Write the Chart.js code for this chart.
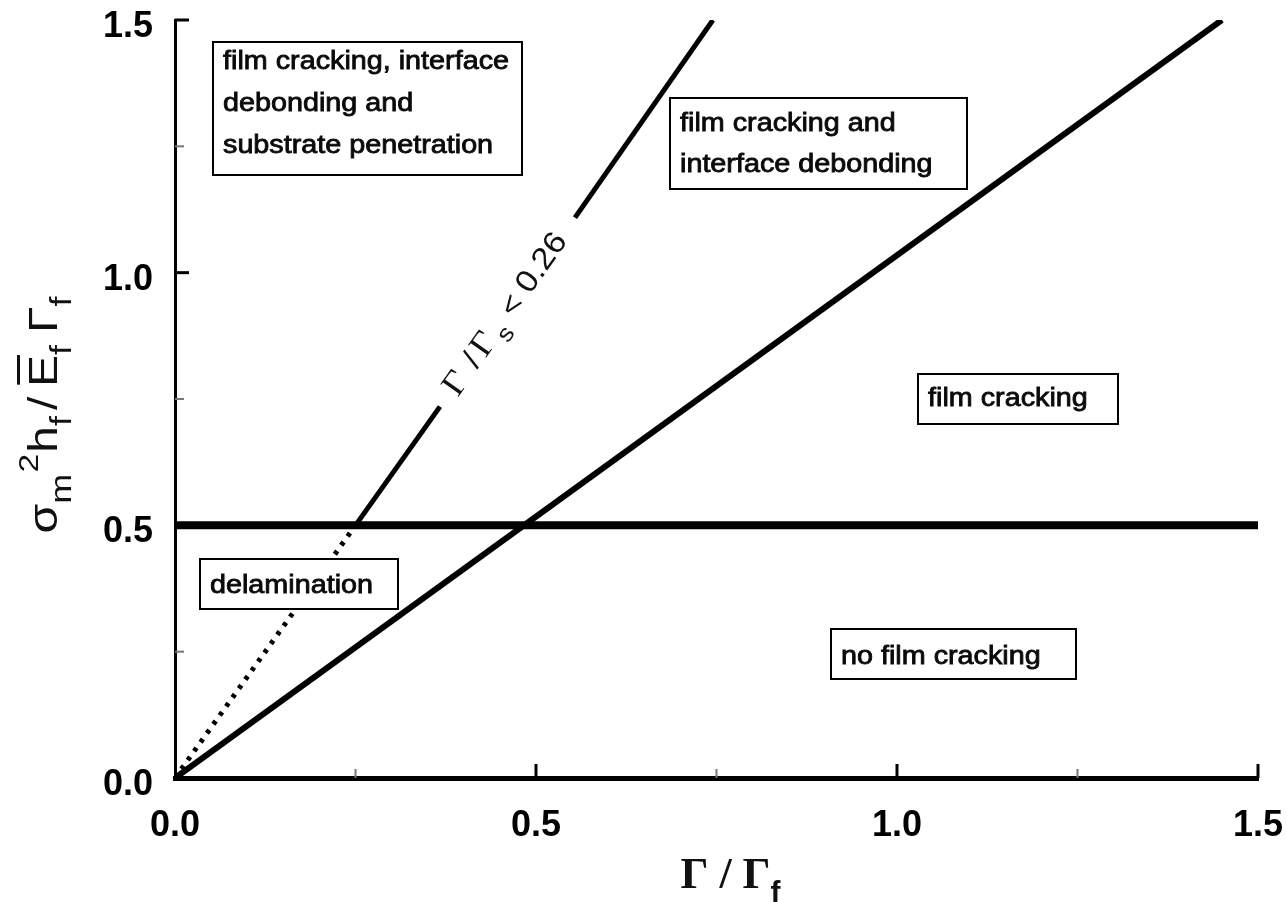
<!DOCTYPE html>
<html>
<head>
<meta charset="utf-8">
<script src="https://cdn.jsdelivr.net/npm/chart.js@4.4.0/dist/chart.umd.min.js"></script>
<style>
  body { margin: 0; background: #fff; }
  #mapChart { display: block; }
</style>
</head>
<body>
<canvas id="mapChart" width="1287" height="902"></canvas>
<script>
// boundary lines, x = Γ/Γf, y = σm²hf/ĒfΓf
var crackX = [0, 1.5];
var crackY = [0.5, 0.5];
var debondX = [0, 1.45];
var debondY = [0, 1.5];
var dotX = [0, 0.25];
var dotY = [0, 0.5];
var subLowX = [0.25, 0.367];
var subLowY = [0.5, 0.735];
var subHighX = [0.554, 0.745];
var subHighY = [1.109, 1.5];

var tickVals = [0.25, 0.5, 0.75, 1.0, 1.25, 1.5];
var majorVals = [0.5, 1.0, 1.5];

var regionNames = [
    ['film cracking, interface', 'debonding and', 'substrate penetration'],
    ['film cracking and', 'interface debonding'],
    ['film cracking'],
    ['delamination'],
    ['no film cracking']
];

// where the region boxes sit (top-left corner in data units, size in px)
var notes = [
    { x: 0.053, y: 1.457, w: 309, h: 133, first: 27, step: 42 },
    { x: 0.686, y: 1.345, w: 297, h: 91, first: 33, step: 41 },
    { x: 1.029, y: 0.800, w: 200, h: 50, first: 32, step: 0 },
    { x: 0.035, y: 0.434, w: 198, h: 50, first: 34, step: 0 },
    { x: 0.909, y: 0.295, w: 245, h: 50, first: 35, step: 0 }
];

function pts(xs, ys) {
    return xs.map(function (x, i) { return { x: x, y: ys[i] }; });
}

var SANS = '"Liberation Sans", Arial, sans-serif';
var SERIF = '"Liberation Serif", "Times New Roman", serif';

function drawParts(ctx, parts, x0) {
    var x = x0;
    parts.forEach(function (p) {
        ctx.font = p.f;
        x += p.gap || 0;
        var w = ctx.measureText(p.t).width;
        ctx.fillText(p.t, x, p.dy || 0);
        if (p.bar) {
            ctx.fillRect(x + 2, -p.bar, w - 2, 3);
        }
        x += w;
    });
    return x - x0;
}

function partsWidth(ctx, parts) {
    var w = 0;
    parts.forEach(function (p) {
        ctx.font = p.f;
        w += (p.gap || 0) + ctx.measureText(p.t).width;
    });
    return w;
}

var extras = {
    id: 'extras',
    afterDatasetsDraw: function (chart) {
        var ctx = chart.ctx;
        var xs = chart.scales.x, ys = chart.scales.y;
        var area = chart.chartArea;

        // inward ticks
        ctx.save();
        tickVals.forEach(function (v) {
            var major = majorVals.indexOf(v) >= 0;
            ctx.strokeStyle = major ? '#000' : '#777';
            ctx.lineWidth = major ? 3 : 2;
            var len = major ? 14 : 9;
            var px = xs.getPixelForValue(v);
            ctx.beginPath();
            ctx.moveTo(px, area.bottom);
            ctx.lineTo(px, area.bottom - len);
            ctx.stroke();
            var py = ys.getPixelForValue(v);
            ctx.beginPath();
            ctx.moveTo(area.left, py);
            ctx.lineTo(area.left + len, py);
            ctx.stroke();
        });
        ctx.restore();

        // region boxes
        ctx.save();
        notes.forEach(function (n, i) {
            var bx = Math.round(xs.getPixelForValue(n.x));
            var by = Math.round(ys.getPixelForValue(n.y));
            ctx.fillStyle = '#fff';
            ctx.fillRect(bx, by, n.w, n.h);
            ctx.strokeStyle = '#000';
            ctx.lineWidth = 2;
            ctx.strokeRect(bx, by, n.w, n.h);
            ctx.fillStyle = '#0a0a0a';
            ctx.strokeStyle = '#0a0a0a';
            ctx.lineWidth = 0.8;
            ctx.font = '25px ' + SANS;
            ctx.textBaseline = 'alphabetic';
            regionNames[i].forEach(function (line, k) {
                ctx.save();
                ctx.translate(bx + 10, by + n.first + k * n.step);
                ctx.scale(1.15, 1);
                ctx.fillText(line, 0, 0);
                ctx.strokeText(line, 0, 0);
                ctx.restore();
            });
        });
        ctx.restore();

        // label along the steep boundary, in the gap of the line
        var ax = xs.getPixelForValue((subLowX[1] + subHighX[0]) / 2);
        var ay = ys.getPixelForValue((subLowY[1] + subHighY[0]) / 2);
        var ang = Math.atan2(
            ys.getPixelForValue(subHighY[1]) - ys.getPixelForValue(subLowY[0]),
            xs.getPixelForValue(subHighX[1]) - xs.getPixelForValue(subLowX[0]));
        ctx.save();
        ctx.translate(ax, ay);
        ctx.rotate(ang);
        ctx.fillStyle = '#111';
        ctx.textAlign = 'center';
        ctx.textBaseline = 'middle';
        var bits = [
            { t: 'Γ', f: '34px ' + SERIF, c: -88, dy: 0 },
            { t: '/', f: '30px ' + SANS, c: -60, dy: 0 },
            { t: 'Γ', f: '34px ' + SERIF, c: -40, dy: 0 },
            { t: 's', f: '24px ' + SANS, c: -19, dy: 12 },
            { t: '<', f: '30px ' + SANS, c: 8, dy: 1 },
            { t: '0.26', f: '31px ' + SANS, c: 60, dy: 0 }
        ];
        bits.forEach(function (b) {
            ctx.font = b.f;
            ctx.save();
            ctx.translate(b.c, b.dy);
            ctx.scale(1.1, 1);
            ctx.fillText(b.t, 0, 0);
            ctx.restore();
        });
        ctx.restore();

        // y axis title
        var yParts = [
            { t: 'σ', f: '40px ' + SANS },
            { t: 'm', f: '30px ' + SANS, dy: 14 },
            { t: '2', f: '28px ' + SANS, dy: -19, gap: 1 },
            { t: 'h', f: '40px ' + SANS, gap: 1 },
            { t: 'f', f: '30px ' + SANS, dy: 14 },
            { t: '/', f: '40px ' + SANS, gap: 5 },
            { t: 'E', f: '40px ' + SANS, gap: 8, bar: 40 },
            { t: 'f', f: '30px ' + SANS, dy: 14 },
            { t: 'Γ', f: '40px ' + SANS, gap: 10 },
            { t: 'f', f: '30px ' + SANS, dy: 14 }
        ];
        ctx.save();
        ctx.fillStyle = '#111';
        ctx.textAlign = 'left';
        ctx.textBaseline = 'alphabetic';
        ctx.translate(area.left - 118, (area.top + area.bottom) / 2 + 16);
        ctx.rotate(-Math.PI / 2);
        ctx.scale(1.2, 1);
        drawParts(ctx, yParts, -partsWidth(ctx, yParts) / 2);
        ctx.restore();

        // x axis title
        var xParts = [
            { t: 'Γ / Γ', f: 'bold 44px ' + SERIF },
            { t: 'f', f: 'bold 30px ' + SANS, dy: 14 }
        ];
        ctx.save();
        ctx.fillStyle = '#111';
        ctx.textAlign = 'left';
        ctx.textBaseline = 'alphabetic';
        ctx.translate((area.left + area.right) / 2 + 14, area.bottom + 110);
        drawParts(ctx, xParts, -partsWidth(ctx, xParts) / 2);
        ctx.restore();
    }
};

var tickFont = { family: SANS, size: 36, weight: 'bold' };

var ctx = document.getElementById('mapChart');
var mapChart = new Chart(ctx, {
    type: 'scatter',
    data: {
        datasets: [
            { data: pts(crackX, crackY), borderColor: '#000', borderWidth: 8 },
            { data: pts(debondX, debondY), borderColor: '#000', borderWidth: 6 },
            { data: pts(dotX, dotY), borderColor: '#000', borderWidth: 5, borderDash: [4, 7] },
            { data: pts(subLowX, subLowY), borderColor: '#000', borderWidth: 5 },
            { data: pts(subHighX, subHighY), borderColor: '#000', borderWidth: 5 }
        ]
    },
    options: {
        responsive: false,
        devicePixelRatio: 1,
        animation: false,
        showLine: true,
        elements: { point: { radius: 0 } },
        layout: { padding: { top: 20, right: 29, left: 0, bottom: 0 } },
        plugins: { legend: { display: false }, tooltip: { enabled: false } },
        scales: {
            x: {
                type: 'linear',
                min: 0,
                max: 1.5,
                grid: { display: false, drawTicks: false },
                border: { display: true, color: '#000', width: 5 },
                ticks: {
                    stepSize: 0.5,
                    maxRotation: 0,
                    autoSkip: false,
                    padding: 26,
                    color: '#000',
                    font: tickFont,
                    callback: function (v) { return v.toFixed(1); }
                },
                afterFit: function (s) {
                    s.height = 124;
                    s.paddingLeft = 0;
                    s.paddingRight = 0;
                }
            },
            y: {
                type: 'linear',
                min: 0,
                max: 1.5,
                grid: { display: false, drawTicks: false },
                border: { display: true, color: '#000', width: 3 },
                ticks: {
                    stepSize: 0.5,
                    padding: 22,
                    labelOffset: 7,
                    color: '#000',
                    font: tickFont,
                    callback: function (v) { return v.toFixed(1); }
                },
                afterFit: function (s) {
                    s.width = 175;
                    s.paddingTop = 0;
                    s.paddingBottom = 0;
                }
            }
        }
    },
    plugins: [extras]
});
</script>
</body>
</html>
